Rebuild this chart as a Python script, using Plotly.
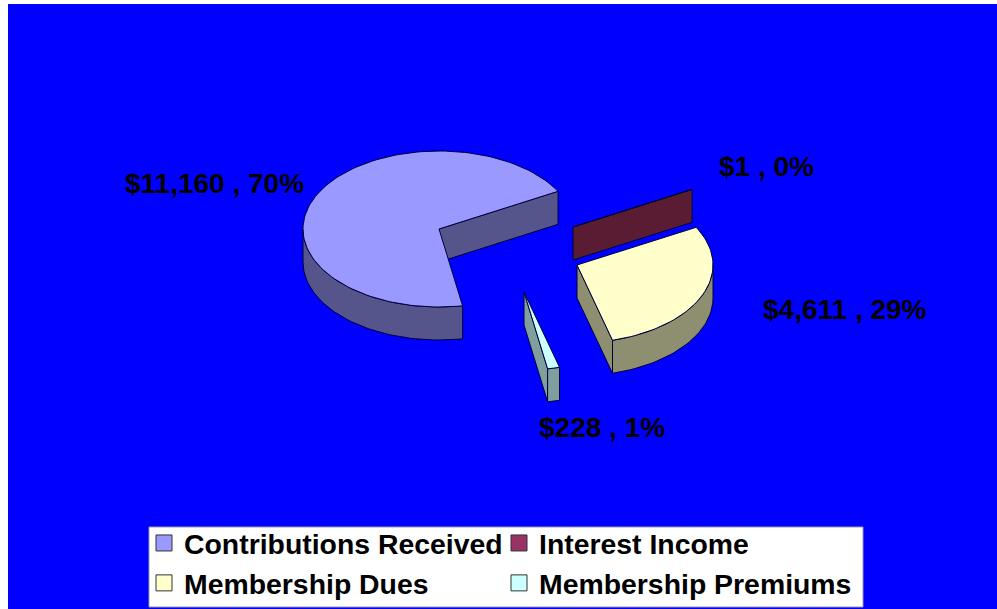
import math
import plotly.graph_objects as go

categories = ["Contributions Received", "Interest Income", "Membership Dues", "Membership Premiums"]
values = [11160, 1, 4611, 228]

legend_colors = ["#9999FF", "#993366", "#FFFFCC", "#CCFFFF"]
top_colors = ["#9999FF", "#5A1C33", "#FFFFCC", "#CCFFFF"]
wall_colors = ["#55558C", "#5A1C33", "#8E8E70", "#7F9F9F"]
edge = "#00003A"

# projection of the pie (pixels of the 997x609 page)
center = (439, 229)
rx, ry, depth = 136, 78, 33
first_angle = 170
explode = [(0, 0), (134, -2), (138, 36), (85, 63)]
label_pos = [(214, 183), (766, 166), (845, 309), (602, 427)]

total = sum(values)


def rim(cx, cy, deg, drop=0):
    t = math.radians(deg)
    return cx + rx * math.sin(t), cy - ry * math.cos(t) + drop


def arc(cx, cy, a0, a1, drop=0):
    n = max(2, int(abs(a1 - a0) / 2) + 1)
    return [rim(cx, cy, a0 + (a1 - a0) * i / (n - 1), drop) for i in range(n)]


def poly(fig, pts, color):
    xs = [p[0] for p in pts] + [pts[0][0]]
    ys = [p[1] for p in pts] + [pts[0][1]]
    fig.add_trace(go.Scatter(x=xs, y=ys, mode="lines", fill="toself", fillcolor=color,
                             line=dict(color=edge, width=1), showlegend=False, hoverinfo="skip"))


def front_spans(a0, a1):
    """Parts of the slice's arc (clockwise degrees) on the viewer's side: 90..270, mod 360."""
    spans = []
    for k in (-360, 0, 360):
        lo, hi = max(a0, 90 + k), min(a1, 270 + k)
        if lo < hi:
            spans.append((lo, hi))
    return spans


fig = go.Figure()
angle = first_angle
for i, v in enumerate(values):
    sweep = v / total * 360
    a0, a1 = angle, angle + sweep
    angle = a1
    cx = center[0] + explode[i][0]
    cy = center[1] + explode[i][1]
    # cut face seen at the slice's clockwise end
    if math.sin(math.radians(a1)) > 0:
        end = rim(cx, cy, a1)
        poly(fig, [(cx, cy), end, (end[0], end[1] + depth), (cx, cy + depth)], wall_colors[i])
    # outer wall
    for lo, hi in front_spans(a0, a1):
        poly(fig, arc(cx, cy, lo, hi) + arc(cx, cy, hi, lo, depth), wall_colors[i])
    # top face
    poly(fig, [(cx, cy)] + arc(cx, cy, a0, a1), top_colors[i])

# legend entries
for name, col in zip(categories, legend_colors):
    fig.add_trace(go.Scatter(x=[None], y=[None], mode="markers", name=name,
                             marker=dict(symbol="square", size=17, color=col,
                                         line=dict(color="#333333", width=1))))

annotations = []
for v, (lx, ly) in zip(values, label_pos):
    pct = round(v / total * 100)
    annotations.append(dict(x=lx, y=ly, xref="x", yref="y", showarrow=False,
                            text=f"${v:,} , {pct}%",
                            font=dict(family="Liberation Sans", size=28, color="#000000", weight="bold")))

fig.update_layout(
    width=997, height=609, margin=dict(l=0, r=0, t=0, b=0),
    paper_bgcolor="#FFFFFF", plot_bgcolor="#FFFFFF",
    font=dict(family="Liberation Sans"),
    xaxis=dict(range=[0, 997], visible=False, fixedrange=True),
    yaxis=dict(range=[609, 0], visible=False, fixedrange=True),
    shapes=[
        dict(type="rect", xref="x", yref="y", x0=8, x1=997, y0=4, y1=609,
             fillcolor="#0000FF", line_width=0, layer="below"),
        dict(type="rect", xref="x", yref="y", x0=149, x1=863, y0=527, y1=607,
             fillcolor="#FFFFFF", line=dict(color="#9999AA", width=1), layer="below"),
    ],
    annotations=annotations,
    legend=dict(orientation="h", x=150 / 997, y=1 - 518 / 609, xanchor="left", yanchor="top",
                bgcolor="rgba(0,0,0,0)", borderwidth=0, indentation=-6,
                entrywidth=316, entrywidthmode="pixels",
                font=dict(family="Liberation Sans", size=28.4, color="#000000", weight="bold")),
)
fig.write_html("out.html", config={"displayModeBar": False},
               post_script="document.body.style.margin='0';")
